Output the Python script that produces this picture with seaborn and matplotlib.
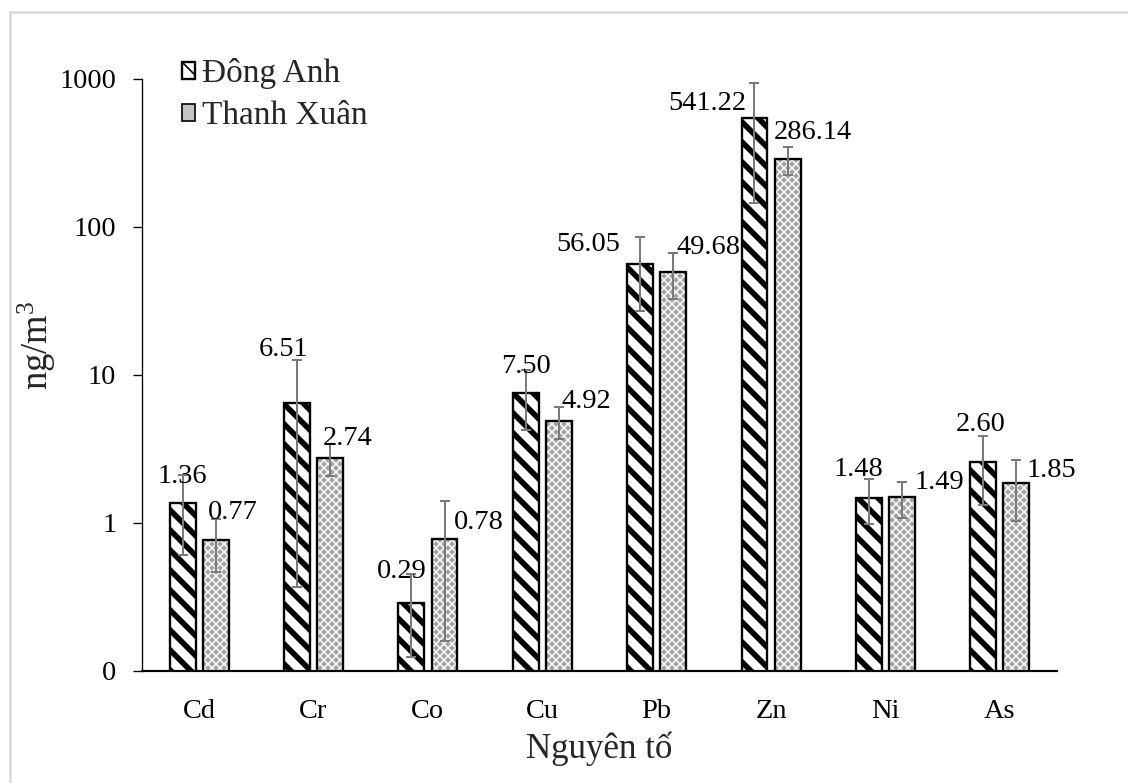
import matplotlib
matplotlib.use("Agg")
import matplotlib.pyplot as plt
from matplotlib.patches import Rectangle
import numpy as np
import pandas as pd
import seaborn as sns

# Element concentrations (ng/m3) at two sites, with standard deviations
elements = ["Cd", "Cr", "Co", "Cu", "Pb", "Zn", "Ni", "As"]
sites = ["Đông Anh", "Thanh Xuân"]
dong_anh = [1.36, 6.51, 0.29, 7.50, 56.05, 541.22, 1.48, 2.60]
thanh_xuan = [0.77, 2.74, 0.78, 4.92, 49.68, 286.14, 1.49, 1.85]
dong_anh_sd = [0.75, 6.14, 0.165, 3.25, 29.0, 395.0, 0.49, 1.27]
thanh_xuan_sd = [0.30, 0.66, 0.62, 1.20, 17.0, 60.0, 0.41, 0.82]

y_ticks = [0.1, 1, 10, 100, 1000]
y_tick_labels = ["0", "1", "10", "100", "1000"]

# Value-label offsets in pixels (dx, dy) from each bar's top
label_offsets = [
    [(0, 27), (-13, 53), (-10, 31), (0, 27), (-52, 20), (-47, 15), (-10, 28), (-3, 37)],
    [(17, 27), (18, 20), (34, 16), (27, 19), (35, 24), (25, 27), (37, 15), (35, 13)],
]

df = pd.DataFrame({
    "element": elements * 2,
    "site": [sites[0]] * len(elements) + [sites[1]] * len(elements),
    "value": dong_anh + thanh_xuan,
})

sns.set_style("ticks")
plt.rcParams["font.family"] = ["Liberation Serif", "DejaVu Serif"]
plt.rcParams["mathtext.fontset"] = "custom"
plt.rcParams["mathtext.rm"] = "Liberation Serif"
plt.rcParams["mathtext.it"] = "Liberation Serif:italic"

DPI = 120
fig = plt.figure(figsize=(1128 / DPI, 783 / DPI), dpi=DPI)
ax = fig.add_axes([142 / 1128, 1 - 671 / 783, (1057 - 142) / 1128, (671 - 79) / 783])
ax.set_yscale("log")

sns.barplot(data=df, x="element", y="value", hue="site", order=elements,
            hue_order=sites, palette=["white", "#a4a4a4"], width=0.58, gap=0.22,
            errorbar=None, legend=False, ax=ax)

da_bars, tx_bars = ax.containers[0], ax.containers[1]

# Đông Anh: bold diagonal stripes
for p in da_bars:
    p.set_facecolor("white")
    p.set_edgecolor("black")
    p.set_linewidth(1.4)
    p.set_hatch("\\\\")
    if hasattr(p, "set_hatch_linewidth"):
        p.set_hatch_linewidth(3.4)

# Thanh Xuân: fine white lattice on grey, black outline
for p in tx_bars:
    p.set_facecolor("#a4a4a4")
    p.set_hatch("xxxxx")
    if hasattr(p, "set_hatchcolor"):
        p.set_edgecolor("black")
        p.set_hatchcolor("white")
        p.set_linewidth(1.4)
    else:
        p.set_edgecolor("white")
        p.set_linewidth(0)
        ax.add_patch(Rectangle((p.get_x(), p.get_y()), p.get_width(), p.get_height(),
                               fill=False, edgecolor="black", linewidth=1.4, zorder=p.get_zorder() + 0.1))
    if hasattr(p, "set_hatch_linewidth"):
        p.set_hatch_linewidth(0.9)

# Error bars and value labels
for bars, vals, sds, offs in zip([da_bars, tx_bars], [dong_anh, thanh_xuan],
                                 [dong_anh_sd, thanh_xuan_sd], label_offsets):
    xs = [p.get_x() + p.get_width() / 2 for p in bars]
    ax.errorbar(xs, vals, yerr=sds, fmt="none", ecolor="#7a7a7a", elinewidth=1.2,
                capsize=3, capthick=1.2, zorder=5)
    for x, v, (dx, dy) in zip(xs, vals, offs):
        ax.annotate(f"{v:.2f}", xy=(x, v), xytext=(dx, dy), textcoords="offset pixels",
                    ha="center", va="center", fontsize=17, color="black", zorder=6)

ax.set_ylim(0.1, 1000)
ax.set_yticks(y_ticks)
ax.set_yticklabels(y_tick_labels)
ax.yaxis.set_minor_locator(matplotlib.ticker.NullLocator())
ax.set_xlim(-0.5, len(elements) - 0.5)

ax.tick_params(axis="y", length=5.4, width=0.8, pad=10, labelsize=17, colors="black", direction="out")
ax.tick_params(axis="x", length=0, pad=17, labelsize=17, colors="black")

for side in ["top", "right"]:
    ax.spines[side].set_visible(False)
ax.spines["left"].set_linewidth(0.8)
ax.spines["left"].set_color("black")
ax.spines["bottom"].set_linewidth(1.3)
ax.spines["bottom"].set_color("black")

ax.set_xlabel("Nguyên tố", fontsize=21)
ax.set_ylabel("ng/m$^{3}$", fontsize=22)
ax.xaxis.set_label_coords(0.5, -0.102)
ax.yaxis.set_label_coords(-0.092, 0.55)

leg = ax.legend([da_bars, tx_bars], sites, loc="upper left",
                bbox_to_anchor=(182 / 1128, 1 - 58 / 783), bbox_transform=fig.transFigure,
                frameon=False, fontsize=20, handlelength=0.4, handleheight=0.4,
                handletextpad=0.2, labelspacing=0.36, borderpad=0, borderaxespad=0)
# outlined swatch for the grey lattice series
tx_handle = leg.legend_handles[1]
tx_handle.set_hatch(None)
tx_handle.set_facecolor("#c4c4c4")
tx_handle.set_edgecolor("black")
tx_handle.set_linewidth(1.0)

# light grey outer frame
fig.patches.append(Rectangle((10 / 1128, -0.1), 1.2, 1.1 - 12 / 783, transform=fig.transFigure,
                             fill=False, edgecolor="#d9d9d9", linewidth=1.5, figure=fig))

fig.savefig("out.png", dpi=DPI)
